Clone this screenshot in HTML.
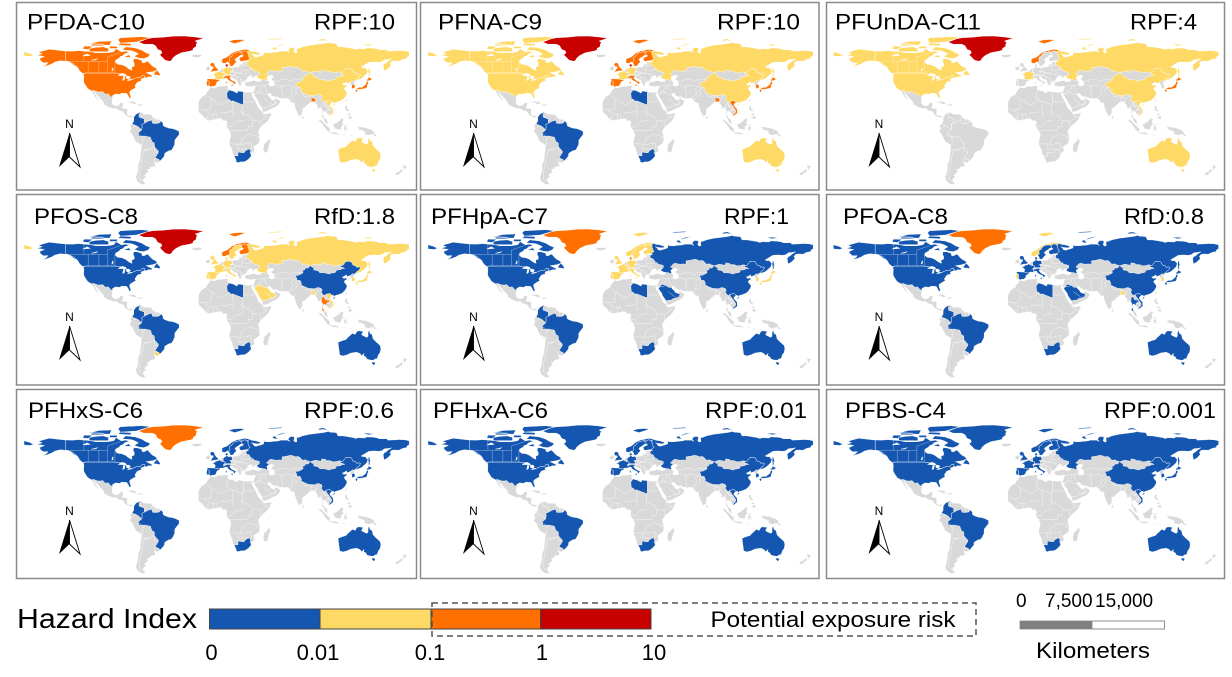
<!DOCTYPE html>
<html><head><meta charset="utf-8"><style>
html,body{margin:0;padding:0;background:#fff}
svg{display:block}
.b{fill:#1557B0}.y{fill:#FFD966}.o{fill:#FF7000}.r{fill:#C80000}.g{fill:#D9D9D9}
text{font-family:"Liberation Sans",Arial,sans-serif;fill:#000}
.t{font-size:22px}
</style></head><body>
<svg width="1232" height="677" viewBox="0 0 1232 677" xmlns="http://www.w3.org/2000/svg">
<defs>
<path id="base" d="M-9,37 -9.5,39 -8.9,42.5 -9.3,43 -8,43.7 -1.8,43.4 -1.2,46 -2.5,47.3 -4.7,48 -1.5,48.7 -1.4,49.7 1.5,50.2 2.5,51.1 4,51.5 4.8,53 7,53.5 8.6,53.9 8.6,55.5 8.1,56.5 8.6,57.1 10.5,57.7 10.3,56.5 10.9,56.3 9.9,55 11,54 13.5,54.3 14.3,53.8 16.5,54.5 18.6,54.7 19.7,54.4 21.1,55.2 21,56.8 21.6,57.4 23.3,57 24.3,57.9 24,58.3 23.4,59.2 28,59.5 30,60 26,60.4 22.9,59.8 21.5,61 21.2,63 23,64 25.3,65 24.5,65.8 22,65.7 21,64.5 19,63.3 17.5,62.3 17.2,61 18.5,60 18.5,59.3 16.5,57.5 16,56.2 14.3,55.4 12.8,55.4 12.5,56.5 11.8,58 11,59 10.5,59.5 9.5,59 8,58.1 6,58.1 5,59 5,60.5 5,62 7,63 10,64 11,65 12.5,66 14,67.5 16,68.5 19,69.8 22,70.2 25.5,71.1 28,71 31,70.3 33,69.3 36,69 40.5,67.7 41,66.5 38.5,66 34.5,66.5 32.5,67 34,66 35,64.3 37,63.8 39,64.5 40.3,64.7 44,66 44,68.5 46,68 50,68 54,68.5 58,68.8 60,69.5 66,69.5 68.5,68.3 66.8,70.5 68.8,72.9 72.5,72.8 72.8,71 72,69 73.6,67.7 75,68 74.7,72 76.5,72 80.5,73.6 87,75 95,76 101,76.8 104.3,77.7 106,77 112,76.5 113.5,73.5 118,73.5 123,72.7 128,71.8 130,71 132.5,71.8 139,71.5 140,72.5 146,72.3 150,71.7 152,70.8 159,70.8 160,69.5 167.5,69.8 170.5,70.1 176,69.8 180,68.9 180,65 178.5,64.5 177.5,62.5 174,61.8 170.3,60 166.3,60.3 163.5,59.8 162,58 163,56.2 161.8,54.9 160,53 158.2,51.9 156.5,51 156,53.5 155.7,56 156.8,57.8 158.5,58.5 160,60 163.5,62.3 160.2,61.7 157,61.5 154.2,59.5 151,59 148.5,59.3 145.5,59.3 142.2,59 138.9,57 135.1,54.7 137,54 139,54.1 140.5,52.2 141.4,51.5 140.5,48.5 138.2,46.3 135.5,43.9 132.9,42.8 130.7,42.3 129.7,41 128,39.8 129.4,37 129.5,35.6 127.4,34.5 126.5,34.4 126.4,36.7 125.9,37.9 124.7,38.1 125.2,39.5 124.3,39.9 121.8,39 121.5,40.8 119,39.3 117.5,38.7 118.8,37.5 120.8,37.8 122.5,37 120,35.6 119.2,34.3 120.6,32.4 121.9,30.9 121.5,28.6 119.6,25.7 117,23.5 114,22.3 111,21.5 110.2,20.1 109.5,21.6 108,21.5 106.7,20.7 105.7,19 106.4,18 108.9,15.3 109.2,11.7 108,10.7 106.3,9.5 104.8,8.6 105,10 103.5,10.6 102.6,12.2 100.9,13.4 100.1,13.4 99.2,10.6 99.8,9.2 100.5,7.4 101.2,6.9 102.1,6.2 103.4,4.9 103.4,3.4 104.2,1.4 103.5,1.3 101.3,2.8 100.3,5.3 98.5,8.4 98.3,10 98.5,13.1 97.6,16.1 97,16.9 95.4,15.7 94.2,16 94.4,18.2 93.5,19.4 92.4,20.7 92,21.7 90.6,22.4 89,21.9 86.9,21.5 87,20.7 85.1,19.5 82.2,16.6 80.3,15.9 80.3,13 79.9,10.4 78,8.9 77.5,8 76.1,10.3 74.9,12.7 74.2,14.6 73.1,17.9 72.8,19.2 72.6,21.4 71.2,20.8 69,22.4 68.2,23.7 66.4,25.4 61.5,25.1 57.4,25.7 56.5,27.1 54.7,26.5 51.5,27.9 50.1,30.1 48.6,29.9 48,29 48.5,27.5 50.2,26.2 50.8,24.7 51.6,24.2 54,24.1 56,26 56.4,24.9 58.7,23.6 59.8,22.3 57.8,19 55.3,17.2 52,16 48.7,14 45,12.7 43.3,12.6 42.6,15.2 41.2,18.7 39,21.5 38.5,23.6 37,25.5 35.2,28.1 34.6,28.1 34.9,29.5 34.3,31.2 35,33 35.8,35.5 36.2,36.7 34.7,36.8 32.5,36.1 30.6,36.7 29.2,36.4 27.6,37 26.3,38.2 26.8,39.5 26.2,40.1 27.3,40.4 29,40.9 31.2,41.1 33.5,42 35.2,42 38.3,40.9 41.5,41.5 41.7,42.6 40,43.4 38.7,44.3 37.4,44.9 38.5,46.6 35,45.6 36.5,45.3 33.6,44.4 32.5,45.3 33.6,46.1 31.7,46.7 30.7,46.5 29.6,45.3 28.7,44.3 28,43 27.6,42.5 28,41.8 26.1,40.8 24,40.8 23.7,39.9 22.6,40.3 23.3,39.2 22.8,37.3 21.7,36.8 21.1,37.8 20.2,39.6 19.4,40.3 19.4,41.9 18.5,42.5 16,43.5 14.9,44.7 13.7,45.2 13.1,45.7 12.3,45.4 12.6,44.1 13.9,42.6 16,41.4 18.5,40.2 17,39 16.6,38 15.9,38.8 15.7,40 14,40.8 12.1,41.7 10.5,42.9 10.2,43.9 8.9,44.4 7.8,43.8 6.5,43.1 4.5,43.5 3.1,43.1 3.2,41.9 0.8,41 0,39.9 -0.3,38.3 -2.1,36.7 -4.4,36.7 -5.4,36 -6.5,36.9 -7.5,37.1 Z
M-17,21 -17.1,14.7 -16.7,12.4 -15,11 -13,9.5 -11.5,6.9 -7.5,4.4 -4,5.2 1,6 2.7,6.3 4.5,6.3 6,4.3 8.5,4.5 9.7,3.6 9.4,1 9,-1 11.9,-5 12.2,-6 13.4,-9 12.3,-13 11.7,-17 14.4,-22.9 15.2,-27 16.5,-28.6 18.3,-32.6 18.2,-34 20,-34.8 22.5,-34 25.6,-34 27.5,-33.2 30,-31.3 32.4,-28.5 32.6,-26 35.5,-24 35.3,-22 34.6,-19.8 36.7,-18.5 40,-16 40.5,-10.5 39.2,-7 39.2,-4.7 41.5,-1.7 43,0.2 46,2.4 48.7,5.3 51.2,10.4 51.1,11.9 48.5,11.2 45,10.6 43.3,11.9 42.5,13.2 39.3,15.9 38.4,18 37.1,21 36.9,22 35.5,24 34,26.6 32.5,29.9 34.9,29.5 33.8,31 32.2,31.3 29,30.9 25,31.6 20.1,32.2 19.1,30.3 15.3,32.3 11.5,33.2 10.2,34.5 11.1,37.1 9.5,37.3 5.4,36.7 1.5,36.6 -2,35.1 -5.9,35.8 -6.9,34 -9.6,30.5 -10,29 -13,27.6 -14.5,26 -16.3,23.5 Z
M49.5,-12 50.5,-15.5 49.5,-17 47.5,-24.9 45,-25.5 43.5,-22.5 44.4,-17 46.3,-15.8 48,-13.5 Z
M-77.4,7.8 -76.7,8.7 -75.5,10.5 -74,11.3 -71.7,12.4 -70,12 -68,10.5 -64,10.6 -61,10.2 -60,8.5 -57,6 -54,5.7 -51.6,4.2 -50,1.8 -50,0 -48.5,-1 -44.5,-2.5 -41,-2.9 -38,-4 -35,-5.5 -35,-8.5 -37,-11 -39,-13.6 -39.2,-17.7 -40.5,-20.5 -42,-23 -45,-23.8 -48.5,-26 -48.7,-28.5 -51,-31.3 -53.4,-33.7 -54.9,-34.9 -58.4,-34.2 -57,-36.5 -57.7,-38.2 -62,-39 -62.2,-40.7 -65,-41 -63.5,-42.7 -65.5,-45 -67.5,-46.5 -65.8,-47.8 -68.5,-50.2 -68.3,-52.3 -66,-55 -70,-55.2 -74.5,-52 -75.5,-48 -74,-44 -73.5,-40 -73.5,-37 -71.5,-32 -71.4,-28 -70.5,-23 -70.2,-18.3 -75.3,-15.3 -76.4,-13.5 -79,-8 -81.2,-6 -80.3,-3.4 -80,-2 -80.9,-1 -80,0.8 -79,1.5 -77.5,4 Z
M-117.1,32.5 -114.7,32.7 -111,31.3 -108.2,31.3 -106.5,31.8 -104.5,29.7 -103,29 -101.5,29.8 -99.5,27.5 -97.2,25.9 -97.7,22 -97.2,20 -95,18.5 -92.5,18.6 -90.5,19.8 -90.3,21 -87,21.5 -87.5,18.5 -88.3,16 -85,16 -83.2,15 -83.5,12 -83.8,11 -82,9 -79.5,9.5 -77.5,8.5 -77.4,7.8 -78.4,8.3 -80.4,7.3 -83,8.3 -85.7,10 -87.5,13 -91.4,14 -94,16 -96.5,15.7 -101,17.3 -105.5,20 -105.5,21.5 -107,23.5 -109.3,25.7 -112.5,29.5 -114.8,31.7 -113.5,29.5 -112,26.5 -110,24 -109.5,23 -110.3,23.5 -112,24.8 -114.2,27.5 -115.7,30.3 Z
M-85,21.9 -81,22.6 -77,22.4 -74.2,20.2 -77.7,19.9 -81,21.4 Z M-74.4,18.5 -68.4,18.6 -69,19.8 -72.8,19.9 Z
M-24,65.5 -22,66.4 -18,66.2 -14.5,66.4 -13.6,65 -14.9,64.4 -18.5,63.4 -22.7,63.9 -21.8,65 Z
M-6,52 -6.3,54 -6,55.2 -8,55.2 -10,54 -10.2,51.8 -8,51.6 Z
M79.9,6.8 80,9.6 81.2,8.5 81.8,7.5 81.2,6.2 80.3,6 Z
M120.1,23 121,25 122,25 121,22 Z
M120.5,18.5 122.2,18.5 122,16 124,13.8 123.5,13 121,14 120.5,14.5 119.8,16.5 Z M122,7 125.5,9.5 126.5,7 125.5,6 124,6.5 Z M122,10.5 124,11.5 125.5,11 124,9.5 122.5,9.5 Z
M95.3,5.6 97.5,5.2 100.6,2 104,-1 106,-3 105.8,-5.8 104.5,-5.9 102.5,-4 100.5,-1.2 98.5,1.7 96.2,3.5 Z
M105.2,-6.8 106,-5.9 108.5,-6.5 111,-6.4 112.8,-6.9 114.5,-7.8 114.5,-8.6 110,-8.2 106.5,-7.4 Z
M109,1.5 110.5,1.6 113,3.1 115.5,5.4 117,7 119,5.3 118,4.3 117.8,2 119,0.9 117.5,0.1 116.5,-1.5 116.2,-3.9 114.5,-3.9 111,-3 110.2,-2.9 110,-1.5 109,0 Z
M119.5,0.5 120.8,1.3 124.9,1.6 121,0.5 120.3,-0.9 121.6,-1 123.3,-0.6 121.5,-1.9 122.8,-4.5 121.5,-4.6 120.9,-3 120.4,-5.6 119.4,-5.4 119.5,-3.5 118.8,-2.8 119.8,-0.2 Z
M131,-1.2 134,-0.9 136,-1.8 138,-1.7 141,-2.6 144.6,-3.9 147.6,-6 147.1,-7.3 150.8,-10.3 148,-10.1 146,-8.1 143,-8.9 143.3,-9.2 141,-9.1 138.8,-8.2 137.6,-8.4 138.6,-6.9 137.9,-5.4 135,-4.4 133,-4.1 132,-2.8 133.5,-2.3 132.2,-2.2 Z
M124,-9.3 127.3,-8.4 125,-10 Z M115,-8.2 119,-8.3 122,-8.3 123,-8.6 119,-9 Z
M172.7,-34.4 174.5,-36.5 175.9,-37.5 178.5,-37.7 177,-39.3 176,-41.3 174.6,-41.3 175.2,-40 173.9,-39.3 174.6,-38 174.2,-36.5 Z M172.8,-40.5 174.3,-41.7 173,-43.8 171.2,-44.5 170.6,-45.9 169,-46.6 166.5,-46 168.3,-44 171,-42.5 Z"/>
<path id="bord" fill="none" d="M-8.7,27.3 -4.8,25 1.2,20.8 4.2,19.2 12,23.5 M25,22 36.9,22 M24,19.5 24,8.7 M3.6,11.7 14.5,13 M-17,16 -12,14.5 -5,10 0,11 M12,-5 16,-5 29,-4.5 30,-1 M11.7,-17 25,-17.6 M20,-22 29,-22 M40.5,-10.5 30,-8 M42.5,12 44,9 48,8 41,4 M34,4.5 41,4 41,-1.7 M-12,14.7 -5.5,15.5 -5,25 M15,23 15.5,8 M22,13 32,8 34,4.5 M9,-1 14,-1 18,3.5 25,5 M29,-1 33,-1 34,4.5 M24,-12 30,-8 M24,-12 22,-17.6 M32,-16 33,-22 M1,6 0,11 M-8,4.5 -8,10 M-3,5 -3,11 M-11.5,6.9 -8.5,8 M20,-18 20,-22 M25,-17.6 32,-16 M37,-12 40,-11
M52,42 56,41.3 58,42 62,43.5 66,43 68,41 71,42.5 75,42.8 80,43 M61,25 61.5,29.5 60.5,34 61,36.5 M66.4,25.4 70,28 71,31 70,34 71.5,36.5 74.5,37 M48.6,29.9 46,33 45.5,35.5 44.5,38 M78,35.5 74,34 73.5,32.5 75,31 74,29 72,27 70,25 68.5,23.8 M36.2,36.7 42,37.2 44.8,37.2 M92.5,21 93.5,24 95,26 97.3,28.2 M44.8,37.2 48,38.5 53.9,37.5 M60,37.5 66,37.3 70,37 M53,38.5 56,38 62,35.5 M80,30.5 82,27 88,26.5 M88,27 88.5,26.5 92,27 M100,21.5 102,18 105,14.5 106.5,13 M102.5,14 106,14.5 M35,30 39,29.5 42,31 M39,32 41,35 M43,37 42,33 M44.5,25 52,19.5 M56,22 52,19
M14.3,53.8 14.6,52.6 15,51 18.8,49.5 22.5,49 24,50.8 23.5,52 23.5,54 M22.5,49 26,48 28,46 29.6,45.3 M13.7,46.5 16.5,46.5 19,45.5 22.5,44.2 23,42.5 26,42 28,41.8 M13.7,46.5 17,48 19,48.5 22.5,48.2 M16.5,46.5 17,48 M19,45.5 19,42 M22.5,44.2 22.5,41 M23.5,54 26,55.5 28,56 M21,56 26,56.5 M24,57.5 27.5,57.5 M24,51 32,52 M26,48 30,48.5 M6,49.5 6,51.8 M9.6,47.5 6,46.3 M10.5,46.8 13.7,46.5 M12.4,50.3 18.8,49.5"/>
<path id="grl" d="M-73,78 -68,76 -60,76 -57,74.5 -55,71 -52,70 -51,68 -53,66 -50,63 -48,61 -44,60 -42,61 -41,63 -38,65.5 -33,68 -25,69.5 -22,70.5 -22,72 -19,74 -19,76 -18,77.5 -20,79 -12,81.5 -20,82.7 -30,83.6 -40,83.5 -50,82.5 -60,82 -65,81 -70,79 Z"/>
<path id="can" d="M-141,69.6 -141,60.3 -137,59 -133,56 -130,54.5 -128,51 -125,48.5 -123,49 -95,49 -89,48 -84,46.5 -82.5,45 -82.5,43 -79,43 -76,44.2 -74.5,45 -71,45 -70,46.5 -67.8,47.1 -67,45 -66,44.5 -64,45.5 -61,45.5 -60,46.5 -64.5,48.8 -66,49.3 -60,50.2 -56,51.5 -55.7,52.5 -57,54 -60,55.5 -62,57.5 -64.5,60.3 -68,58.5 -69.5,58.8 -70,61 -74,62.3 -77.5,62.5 -78,60 -77,58 -77,55.5 -79.5,54.5 -79,51.5 -82,52.9 -85,55.2 -88.5,56.8 -92.5,57.2 -94.5,59 -94.5,61 -91,63 -90,64.5 -88,65 -86,67 -81.5,68.5 -85,69.5 -89,68.8 -94,71.8 -96,69 -102,68 -108,68 -113,68 -118,69 -124,69.5 -129,70 -134,69.5 Z
M-62,66.5 -64,64 -68,62.5 -72,62.8 -77,64.5 -73,67 -77,69 -80,70 -88,70.5 -85,73.5 -76,72.5 -70,70.5 -66,68 Z
M-119,69 -101,69 -101,72 -106,73.5 -113,73 -119,72 Z M-125,71.5 -120,71 -116,74 -124,74.2 Z
M-90,77 -75,78 -62,82 -70,83 -90,82 -92,80 Z M-92,75 -80,74.5 -80,76.5 -90,77 Z
M-120,76 -100,75 -98,79 -110,78.5 Z M-117,74.5 -105,74.5 -106,76 -117,76.5 Z M-100,72 -93,72 -93,74 -100,74 Z
M-87,64 -80,63.5 -82,66 Z M-59,47.6 -53,46.6 -52.7,48 -55.5,51.5 -57,50.5 Z"/>
<path id="canb" fill="none" d="M-120,49 -120,60 M-110,49 -110,60 M-102,49 -102,60 M-95,49 -95,60 M-141,60 -102,60 -102,64 -90,68 M-124,60 -124,69.5 M-79.5,52 -79.5,62"/>
<path id="usa" d="M-123,49 -124.5,48 -124,46 -124.3,42 -124,40 -122.5,37.5 -120.5,34.5 -117.1,32.5 -114.7,32.7 -111,31.3 -108.2,31.3 -106.5,31.8 -104.5,29.7 -103,29 -101.5,29.8 -99.5,27.5 -97.2,25.9 -97.4,27.8 -94.5,29.5 -90.5,29.1 -89,30.2 -85.5,30 -84,30 -82.7,28 -81.8,26 -80.4,25.2 -80.1,26.8 -81.3,30.3 -81,32 -77.9,34 -75.5,35.3 -76.3,37 -75.2,38.8 -74,40.5 -71.5,41.3 -70,41.7 -70.8,42.9 -70.2,43.7 -67,44.8 -67.8,47.1 -70,46.5 -71,45 -74.5,45 -76,44.2 -79,43 -82.5,43 -82.5,45 -84,46.5 -89,48 -95,49 Z
M-141,69.6 -141,60.3 -137,59 -133,56 -130.5,54.8 -134,58 -140,59.8 -146,60.5 -151,59.3 -154,57.5 -158,56 -163,54.8 -159,57 -157.5,58.8 -162,58.6 -164.5,60.5 -165.5,62.5 -161,64.5 -168,65.6 -163,67 -166.5,68.3 -163,69.5 -156.5,71.3 -152,70.8 -145,70 Z"/>
<path id="col" d="M-77.4,7.8 -76.7,8.7 -75.5,10.5 -74,11.3 -71.7,12.4 -71.2,11.8 -72.4,11 -72.5,8 -67.5,6.2 -67.7,4 -67.3,2.2 -70,1 -69.5,-1 -70,-4.2 -73,-1.2 -75.2,-0.1 -77.5,0.8 -79,1.5 -77.5,4 Z"/>
<path id="bra" d="M-70,-4.2 -69.5,-1 -70,1 -67.3,2.2 -64,4 -60.7,5 -59.8,2 -56.5,1.9 -54,2.2 -51.6,4.2 -50,1.8 -50,0 -48.5,-1 -44.5,-2.5 -41,-2.9 -38,-4 -35,-5.5 -35,-8.5 -37,-11 -39,-13.6 -39.2,-17.7 -40.5,-20.5 -42,-23 -45,-23.8 -48.5,-26 -48.7,-28.5 -51,-31.3 -53.4,-33.7 -53.7,-32 -57.6,-30.2 -55.8,-27.5 -54.6,-25.6 -54.3,-24 -55.8,-22.4 -58,-20 -58.2,-16.3 -60.5,-15 -61.9,-10.9 -65.3,-10.3 -66.6,-9.9 -72.4,-10 -73.4,-7 Z"/>
<path id="sab" fill="none" d="M-72.5,8 -70,7 -67.5,6.2 M-60.7,5 -60,8.5 M-56.5,1.9 -57,6 M-54,2.2 -54,5.7 M-75.2,-0.1 -80.3,-3.4 M-73.4,-7 -70,-10 -69,-13 -69,-18 -70.2,-18.3 M-66.6,-9.9 -69,-13 M-58,-20 -62,-22 -67,-22.5 -68.5,-22 M-58,-20 -58,-24 -54.6,-25.6 M-62,-22 -68.5,-24 -69,-28 -70,-33 -71.5,-40 -72,-45 -72,-50 -69,-52"/>
<path id="ury" d="M-58.4,-34.2 -54.9,-34.9 -53.4,-33.7 -53.7,-32 -57.6,-30.2 -58.2,-33 Z"/>
<path id="lby" d="M11.5,33.2 10,30.8 9.5,30.2 10,25.3 11.9,24.3 14,22.5 15.1,23 24,19.5 25,20 25,31.6 20.1,32.2 19.1,30.3 15.3,32.3 Z"/>
<path id="zaf" d="M16.5,-28.6 18.3,-32.6 18.2,-34 20,-34.8 22.5,-34 25.6,-34 27.5,-33.2 30,-31.3 32.4,-28.5 32,-26.8 31.3,-25.6 31.9,-24.3 31.2,-22.3 29.4,-22.1 27,-23.6 25.7,-25.5 23,-25.3 20,-24.8 20,-28.4 17,-28.3 Z"/>
<path id="sau" d="M36.5,29.2 37.5,31 39,32 42,31.1 44.7,29.2 47.5,29 48.5,27.5 50.2,26.2 50.8,24.7 51.6,24.2 55.5,22.7 55,20 52,19 49,18.6 47,17 46.3,17.2 43.2,16.7 42.8,16.4 41.5,18 39,21.5 38.5,23.6 37,25.5 35.2,28.1 Z"/>
<path id="nor" d="M5,59 5,60.5 5,62 7,63 10,64 11,65 12.5,66 14,67.5 16,68.5 19,69.8 22,70.2 25.5,71.1 28,71 31,70.3 30,69.5 29,69 26,69.8 24,68.6 21,69 20,68.5 18,68.5 16.5,67.5 15,66.2 14,64.5 12.5,64 12,62 12.5,61 12.3,60.1 11.5,59.6 11,59 10.5,59.5 9.5,59 8,58.1 6,58.1 Z M11,78.5 16,80 22,80.4 27,80 22,78 17,76.5 14,77.5 Z"/>
<path id="swe" d="M11,59 11.5,59.6 12.3,60.1 12.5,61 12,62 12.5,64 14,64.5 15,66.2 16.5,67.5 18,68.5 20,68.5 21,69 23.5,67.9 23.9,66 24.5,65.8 22,65.7 21,64.5 19,63.3 17.5,62.3 17.2,61 18.5,60 18.5,59.3 16.5,57.5 16,56.2 14.3,55.4 12.8,55.4 12.5,56.5 11.8,58 Z"/>
<path id="fin" d="M24.5,65.8 25.3,65 23,64 21.2,63 21.5,61 22.9,59.8 26,60.4 28.5,60.6 31.5,62.9 30,64 30,65.5 29,66.9 30,67.7 28.5,68.5 29,69 26,69.8 24,68.6 21,69 23.5,67.9 23.9,66 Z"/>
<path id="gbr" d="M-5.7,50 -3,50.6 1.3,51.2 1.7,52.7 0.2,53.3 -0.3,54.1 -1.5,55.5 -2.1,57.7 -3.3,58.6 -5,58.6 -6.2,57 -5.6,56 -4.8,54.8 -3.1,54.9 -3.2,53.4 -4.5,52.8 -4.3,51.6 -5.2,51.6 Z"/>
<path id="fra" d="M-1.8,43.4 -1.2,46 -2.5,47.3 -4.7,48 -1.5,48.7 -1.4,49.7 1.5,50.2 2.5,51.1 4.2,49.9 5.9,49.5 8.2,49 7.6,47.6 6,46.3 7,45.8 6.8,44 7.5,43.8 6.5,43.1 4.5,43.5 3.1,43.1 3.2,42.4 0.7,42.8 Z"/>
<path id="esp" d="M-9.3,43 -8,43.7 -1.8,43.4 0.7,42.8 3.2,42.4 3.2,41.9 0.8,41 0,39.9 -0.3,38.3 -2.1,36.7 -4.4,36.7 -5.4,36 -6.5,36.9 -7.4,37.2 -7,38 -7.1,39.7 -6.9,41 -8.2,42.1 -8.9,42.5 Z"/>
<path id="prt" d="M-8.9,42.5 -8.2,42.1 -6.9,41 -7.1,39.7 -7,38 -7.4,37.2 -7.5,37.1 -9,37 -9.5,39 Z"/>
<path id="ita" d="M7.5,43.8 6.8,44 7,45.8 8.5,46.2 10.5,46.8 12.2,47 13.7,46.5 13.7,45.7 12.3,45.4 12.6,44.1 13.9,42.6 16,41.4 18.5,40.2 17,39 16.6,38 15.9,38.8 15.7,40 14,40.8 12.1,41.7 10.5,42.9 10.2,43.9 8.9,44.4 Z M12.4,38 15.6,38.3 15.1,36.7 Z M8.4,39 9.6,39.2 9.8,41 8.4,41 Z"/>
<path id="deu" d="M6,51.8 6.2,50.5 6.4,49.5 8.2,49 7.6,47.6 9.6,47.5 13,47.5 13.8,48.7 12.4,50.3 15,51 14.6,52.6 14.3,53.8 13.5,54.3 11,54 9.9,54.8 8.6,54.9 8.6,53.9 7,53.5 Z"/>
<path id="dnk" d="M8.1,56.5 8.6,57.1 10.5,57.7 10.3,56.5 10.9,56.3 9.9,55 8.6,54.9 8.6,55.5 Z M11,55.2 12.5,55.6 12.3,56.1 11,55.8 Z"/>
<path id="rus" d="M28,59.5 30,60 28.5,60.6 31.5,62.9 30,64 30,65.5 29,66.9 30,67.7 28.5,68.5 30,69.5 31,70.3 33,69.3 36,69 40.5,67.7 41,66.5 38.5,66 34.5,66.5 32.5,67 34,66 35,64.3 37,63.8 39,64.5 40.3,64.7 44,66 44,68.5 46,68 50,68 54,68.5 58,68.8 60,69.5 66,69.5 68.5,68.3 66.8,70.5 68.8,72.9 72.5,72.8 72.8,71 72,69 73.6,67.7 75,68 74.7,72 76.5,72 80.5,73.6 87,75 95,76 101,76.8 104.3,77.7 106,77 112,76.5 113.5,73.5 118,73.5 123,72.7 128,71.8 130,71 132.5,71.8 139,71.5 140,72.5 146,72.3 150,71.7 152,70.8 159,70.8 160,69.5 167.5,69.8 170.5,70.1 176,69.8 180,68.9 180,65 178.5,64.5 177.5,62.5 174,61.8 170.3,60 166.3,60.3 163.5,59.8 162,58 163,56.2 161.8,54.9 160,53 158.2,51.9 156.5,51 156,53.5 155.7,56 156.8,57.8 158.5,58.5 160,60 163.5,62.3 160.2,61.7 157,61.5 154.2,59.5 151,59 148.5,59.3 145.5,59.3 142.2,59 138.9,57 135.1,54.7 137,54 139,54.1 140.5,52.2 141.4,51.5 140.5,48.5 138.2,46.3 135.5,43.9 132.9,42.8 130.7,42.3 130.6,42.9 131.3,44.1 133.1,45.1 134.5,47.6 133.4,48.2 130.9,47.8 130.5,48.9 127.4,50 126,52.8 123.5,53.5 120.7,53.2 119.8,52 117.8,49.5 116.7,49.8 114.4,50.2 111.8,49.4 108.5,49.3 106.2,50.3 102.3,50.5 102,51.4 98.2,52 97.8,49.7 92.2,50.8 87.8,49.3 87.3,49.2 86.6,49.8 85,50 83.4,51.1 81,50.8 80,50.9 77.8,53.4 76.5,54.2 73.5,54 71,55 69,55.4 65.2,54.4 61.6,54 61,53.5 61.6,51.3 59.9,50.8 57.7,51 55.7,50.6 53,51.2 50.8,51.7 48.7,50.6 48.6,49.9 46.5,48.4 47.2,47.7 48,47.7 49,46.4 47.5,45.6 47,44.5 47.6,43.7 48,42.5 46.5,41.9 44.9,42.8 43.5,42.9 40,43.4 38.7,44.3 37.4,44.9 38.5,46.6 39.7,47.1 40,47.9 39.8,48.8 40,49.6 38.6,49.9 37.4,50.4 35.4,50.6 35,51.2 34.1,51.6 34.4,52.2 32,52.1 31.8,52.8 31.3,53.1 32.7,53.4 31,54 30.9,55.1 30.2,55.9 28.2,56.2 27.8,57.3 27.3,57.5 27.7,58 Z
M-180,68.9 -175,67.5 -172,66 -170,66.2 -174,64.5 -180,65 Z
M52,71.5 55,70.7 57.5,70.7 55,72.5 57,74.5 61,76 68,76.9 63,75.6 56,73.5 53,73 Z
M95,79 100,79.5 105,78.5 100,81 96,80.5 Z M136,75.5 142,74.5 148,75.3 141,76 Z M47,80 60,80.5 62,81.5 50,81 Z M178.5,71 180,71.6 180,70.9 Z
M142,46 143.5,46.8 143,49.5 144,49 143,53 142.5,54.3 142,53.7 141.7,51 142,48 Z"/>
<path id="chn" d="M130.6,42.9 131.3,44.1 133.1,45.1 134.5,47.6 133.4,48.2 130.9,47.8 130.5,48.9 127.4,50 126,52.8 123.5,53.5 120.7,53.2 119.8,52 117.8,49.5 116.7,49.8 115.5,48.1 118,47.7 119.7,46.7 117.4,46.6 116,45.7 111.9,45.1 111.3,44.4 111.8,43.7 110.4,42.9 107.7,42.5 105,41.6 100.8,42.7 96.4,42.7 95.3,44.2 93.5,45 90.9,45.3 90.6,46.3 91,47 90.3,47.7 88.9,48.1 87.8,49.3 87.3,49.2 85.5,47.1 83.2,47.3 82.2,45.5 80.1,44.9 80.9,43.2 80.3,42.3 77.7,41 76.4,40.4 74.8,40.4 73.9,39.7 74.9,37.4 75.2,35.6 78,35.5 78.9,34.3 78.8,33.5 79.5,32.4 78.7,31.5 81.1,30.2 85.8,28.2 88.8,28 91.7,27.8 93.4,28.6 95.4,29 96.6,28.4 98.2,27.7 98.7,25.9 97.7,24.8 98.9,23.1 99.5,22.1 101.2,21.4 101.8,22.4 103.2,22.8 105.3,23.3 106.7,22.8 108,21.5 109.5,21.6 110.2,20.1 111,21.5 114,22.3 117,23.5 119.6,25.7 121.5,28.6 121.9,30.9 120.6,32.4 119.2,34.3 120,35.6 122.5,37 120.8,37.8 118.8,37.5 117.5,38.7 119,39.3 121.5,40.8 121.8,39 124.3,39.9 125.5,40.6 126.9,41.8 128.2,41.4 129.7,42.4 Z M108.6,19.2 110.5,20.1 111,19.6 109.5,18.2 Z"/>
<path id="jpn" d="M130.9,34 132,33.9 135,33.8 136.9,34.3 138.8,34.6 140.2,35.1 140.9,36.9 141,38.3 142,39.6 141.4,41.4 140,40.7 139.9,39.4 138.8,37.8 137.3,36.8 136.1,35.7 133,35.6 131,34.7 Z M129.6,33.3 131,34 131.9,33 131.1,31.2 130.2,31.3 Z M132.5,33.2 134.8,34.1 134.3,33.3 133,32.8 Z M140,41.5 141.1,41.8 143.2,42 145.5,43.3 144.3,44.1 141.9,45.5 141.5,43.3 140.3,43.3 Z"/>
<path id="kor" d="M126.1,37.7 127.2,38.3 128.4,38.6 129.4,37 129.5,35.6 127.4,34.5 126.5,34.4 126.4,36.7 Z"/>
<path id="vnm" d="M102.1,22.4 103.2,22.8 105.3,23.3 106.7,22.8 108,21.5 106.7,20.7 105.7,19 106.4,18 108.9,15.3 109.2,11.7 108,10.7 106.3,9.5 104.8,8.6 105,10 106.2,10.9 107.5,12.3 107.5,14.4 106.5,15.5 105,17.9 104,18.9 103.5,20 102.5,20.9 Z"/>
<path id="tha" d="M98.4,7.9 99,10.5 99.2,12.2 99.1,13.8 98.3,15.3 97.7,16.3 98.5,17.3 97.8,18.5 98.9,19.8 100.1,20.4 100.8,19.5 101.3,17.6 102.7,17.9 104.7,17.4 105.6,15.6 103,14.2 102.6,12.2 100.9,13.4 100.1,13.4 99.2,10.6 99.8,9.2 100.5,7.4 101.2,6.9 100.1,6.5 Z"/>
<path id="bgd" d="M88.1,22.1 89,21.9 90.6,22.4 92,21.7 92.4,22.8 92.6,24 91.8,25.1 89.8,25.9 88.6,26.4 88.2,24.6 89,23.6 Z"/>
<path id="aus" d="M113.5,-22 114,-26.5 115,-34 118,-35 122,-34 124,-33 126,-32.2 131,-31.5 134,-32.8 135.7,-34.8 137.8,-32.6 137.5,-35 139.5,-35.9 140.5,-38 143.5,-38.8 146.3,-39.1 148,-37.8 150,-37.5 151.3,-33.8 153,-31.5 153.5,-28 153,-25.5 151,-23.5 149.5,-22.3 146.3,-19 145.3,-15 143.5,-14 142.5,-10.7 141.6,-12.9 141.5,-16.5 140.6,-17.6 139,-17 136,-15.5 135.5,-14.8 136.9,-12.3 136.5,-11.9 132.7,-11.5 131,-12.2 129.5,-14.9 127,-13.8 125.2,-15.4 123.5,-17 122.2,-18.1 121,-19.6 117.4,-20.7 114.6,-21.8 Z M144.7,-40.7 148.3,-40.9 148,-43 146.9,-43.6 145.3,-42.3 Z"/>
<path id="water" d="M47,45 49,46.5 51.5,47 53,46.5 53,45 51.5,44.5 51,43.2 52.7,41.7 53.9,40.7 53.9,38.9 53.5,37.2 51,36.8 49,37.6 49.5,40.2 48,42 47.5,43 Z
M-92,46.7 -84.5,46.5 -85,47.8 -88,48.8 -90,48 Z M-87.8,42 -87,46 -85.5,45.8 -86.3,42.5 Z M-84,43.7 -81.7,43.3 -80.5,45 -81.8,46.1 -84.5,46 Z M-83.4,41.7 -79,42.8 -79.5,43 -83,42.2 Z
M-125,65 -118,65.5 -121,67 Z M-117,61 -111,62.5 -113,61.3 Z M-98,51 -97,54 -96.5,53.5 -97,51 Z"/>
</defs>

<rect width="1232" height="677" fill="#fff"/>

<g fill="none" stroke="#8a8a8a" stroke-width="1.5">
<rect x="16.5" y="2.5" width="400" height="187.5"/>
<rect x="420.5" y="2.5" width="398.5" height="187.5"/>
<rect x="826.5" y="2.5" width="398" height="187.5"/>
<rect x="16.5" y="194.5" width="400" height="190.5"/>
<rect x="420.5" y="194.5" width="398.5" height="190.5"/>
<rect x="826.5" y="194.5" width="398" height="190.5"/>
<rect x="16.5" y="389.5" width="400" height="189"/>
<rect x="420.5" y="389.5" width="398.5" height="189"/>
<rect x="826.5" y="389.5" width="398" height="189"/>
</g>

<!-- P1 PFDA -->
<g transform="translate(216.6,125.5) scale(1.07,-1.07)" stroke="#fff" stroke-width="0.4" stroke-linejoin="round">
<use href="#base" class="g"/><use href="#grl" class="r"/><use href="#can" class="o"/><use href="#usa" class="o"/><use href="#col" class="b"/><use href="#bra" class="b"/><use href="#ury" class="g"/><use href="#lby" class="b"/><use href="#zaf" class="b"/><use href="#sau" class="g"/><use href="#nor" class="o"/><use href="#swe" class="o"/><use href="#fin" class="o"/><use href="#gbr" class="o"/><use href="#fra" class="y"/><use href="#esp" class="o"/><use href="#prt" class="o"/><use href="#ita" class="o"/><use href="#deu" class="y"/><use href="#dnk" class="r"/><use href="#rus" class="y"/><use href="#chn" class="y"/><use href="#jpn" class="o"/><use href="#kor" class="o"/><use href="#vnm" class="y"/><use href="#tha" class="g"/><use href="#bgd" class="o"/><use href="#aus" class="y"/><use href="#water" fill="#fff"/><use href="#bord" stroke-width="0.35"/><use href="#canb" stroke-width="0.25"/><use href="#sab" stroke-width="0.35"/>
</g>
<!-- P2 PFNA -->
<g transform="translate(620.6,125.5) scale(1.07,-1.07)" stroke="#fff" stroke-width="0.4" stroke-linejoin="round">
<use href="#base" class="g"/><use href="#grl" class="r"/><use href="#can" class="y"/><use href="#usa" class="y"/><use href="#col" class="b"/><use href="#bra" class="b"/><use href="#ury" class="g"/><use href="#lby" class="b"/><use href="#zaf" class="b"/><use href="#sau" class="g"/><use href="#nor" class="o"/><use href="#swe" class="o"/><use href="#fin" class="o"/><use href="#gbr" class="o"/><use href="#fra" class="y"/><use href="#esp" class="o"/><use href="#prt" class="o"/><use href="#ita" class="o"/><use href="#deu" class="y"/><use href="#dnk" class="r"/><use href="#rus" class="y"/><use href="#chn" class="y"/><use href="#jpn" class="o"/><use href="#kor" class="o"/><use href="#vnm" class="o"/><use href="#tha" class="g"/><use href="#bgd" class="o"/><use href="#aus" class="y"/><use href="#water" fill="#fff"/><use href="#bord" stroke-width="0.35"/><use href="#canb" stroke-width="0.25"/><use href="#sab" stroke-width="0.35"/>
</g>
<!-- P3 PFUnDA -->
<g transform="translate(1026,125.5) scale(1.07,-1.07)" stroke="#fff" stroke-width="0.4" stroke-linejoin="round">
<use href="#base" class="g"/><use href="#grl" class="r"/><use href="#can" class="y"/><use href="#usa" class="y"/><use href="#col" class="g"/><use href="#bra" class="g"/><use href="#ury" class="g"/><use href="#lby" class="g"/><use href="#zaf" class="g"/><use href="#sau" class="g"/><use href="#nor" class="o"/><use href="#swe" class="g"/><use href="#fin" class="g"/><use href="#gbr" class="g"/><use href="#fra" class="y"/><use href="#esp" class="g"/><use href="#prt" class="g"/><use href="#ita" class="g"/><use href="#deu" class="g"/><use href="#dnk" class="g"/><use href="#rus" class="y"/><use href="#chn" class="y"/><use href="#jpn" class="o"/><use href="#kor" class="g"/><use href="#vnm" class="y"/><use href="#tha" class="g"/><use href="#bgd" class="g"/><use href="#aus" class="y"/><use href="#water" fill="#fff"/><use href="#bord" stroke-width="0.35"/><use href="#canb" stroke-width="0.25"/><use href="#sab" stroke-width="0.35"/>
</g>
<!-- P4 PFOS -->
<g transform="translate(216.6,318.5) scale(1.07,-1.07)" stroke="#fff" stroke-width="0.4" stroke-linejoin="round">
<use href="#base" class="g"/><use href="#grl" class="r"/><use href="#can" class="b"/><use href="#usa" class="b"/><use href="#col" class="b"/><use href="#bra" class="b"/><use href="#ury" class="y"/><use href="#lby" class="b"/><use href="#zaf" class="b"/><use href="#sau" class="y"/><use href="#nor" class="o"/><use href="#swe" class="y"/><use href="#fin" class="o"/><use href="#gbr" class="y"/><use href="#fra" class="y"/><use href="#esp" class="y"/><use href="#prt" class="y"/><use href="#ita" class="y"/><use href="#deu" class="y"/><use href="#dnk" class="y"/><use href="#rus" class="y"/><use href="#chn" class="b"/><use href="#jpn" class="y"/><use href="#kor" class="y"/><use href="#vnm" class="y"/><use href="#tha" class="o"/><use href="#bgd" class="y"/><use href="#aus" class="b"/><use href="#water" fill="#fff"/><use href="#bord" stroke-width="0.35"/><use href="#canb" stroke-width="0.25"/><use href="#sab" stroke-width="0.35"/>
</g>
<!-- P5 PFHpA -->
<g transform="translate(620.6,318.5) scale(1.07,-1.07)" stroke="#fff" stroke-width="0.4" stroke-linejoin="round">
<use href="#base" class="g"/><use href="#grl" class="o"/><use href="#can" class="b"/><use href="#usa" class="b"/><use href="#col" class="b"/><use href="#bra" class="b"/><use href="#ury" class="g"/><use href="#lby" class="b"/><use href="#zaf" class="b"/><use href="#sau" class="b"/><use href="#nor" class="y"/><use href="#swe" class="y"/><use href="#fin" class="y"/><use href="#gbr" class="y"/><use href="#fra" class="y"/><use href="#esp" class="y"/><use href="#prt" class="y"/><use href="#ita" class="y"/><use href="#deu" class="y"/><use href="#dnk" class="o"/><use href="#rus" class="b"/><use href="#chn" class="b"/><use href="#jpn" class="y"/><use href="#kor" class="y"/><use href="#vnm" class="b"/><use href="#tha" class="g"/><use href="#bgd" class="g"/><use href="#aus" class="b"/><use href="#water" fill="#fff"/><use href="#bord" stroke-width="0.35"/><use href="#canb" stroke-width="0.25"/><use href="#sab" stroke-width="0.35"/>
</g>
<!-- P6 PFOA -->
<g transform="translate(1026,318.5) scale(1.07,-1.07)" stroke="#fff" stroke-width="0.4" stroke-linejoin="round">
<use href="#base" class="g"/><use href="#grl" class="o"/><use href="#can" class="b"/><use href="#usa" class="b"/><use href="#col" class="b"/><use href="#bra" class="b"/><use href="#ury" class="g"/><use href="#lby" class="b"/><use href="#zaf" class="b"/><use href="#sau" class="b"/><use href="#nor" class="y"/><use href="#swe" class="b"/><use href="#fin" class="b"/><use href="#gbr" class="b"/><use href="#fra" class="b"/><use href="#esp" class="b"/><use href="#prt" class="y"/><use href="#ita" class="b"/><use href="#deu" class="b"/><use href="#dnk" class="b"/><use href="#rus" class="b"/><use href="#chn" class="b"/><use href="#jpn" class="b"/><use href="#kor" class="y"/><use href="#vnm" class="b"/><use href="#tha" class="b"/><use href="#bgd" class="y"/><use href="#aus" class="b"/><use href="#water" fill="#fff"/><use href="#bord" stroke-width="0.35"/><use href="#canb" stroke-width="0.25"/><use href="#sab" stroke-width="0.35"/>
</g>
<!-- P7 PFHxS -->
<g transform="translate(216.6,514.5) scale(1.07,-1.07)" stroke="#fff" stroke-width="0.4" stroke-linejoin="round">
<use href="#base" class="g"/><use href="#grl" class="o"/><use href="#can" class="b"/><use href="#usa" class="b"/><use href="#col" class="b"/><use href="#bra" class="b"/><use href="#ury" class="g"/><use href="#lby" class="g"/><use href="#zaf" class="b"/><use href="#sau" class="g"/><use href="#nor" class="b"/><use href="#swe" class="b"/><use href="#fin" class="b"/><use href="#gbr" class="b"/><use href="#fra" class="b"/><use href="#esp" class="b"/><use href="#prt" class="b"/><use href="#ita" class="b"/><use href="#deu" class="b"/><use href="#dnk" class="b"/><use href="#rus" class="b"/><use href="#chn" class="b"/><use href="#jpn" class="b"/><use href="#kor" class="b"/><use href="#vnm" class="b"/><use href="#tha" class="g"/><use href="#bgd" class="g"/><use href="#aus" class="b"/><use href="#water" fill="#fff"/><use href="#bord" stroke-width="0.35"/><use href="#canb" stroke-width="0.25"/><use href="#sab" stroke-width="0.35"/>
</g>
<!-- P8 PFHxA -->
<g transform="translate(620.6,514.5) scale(1.07,-1.07)" stroke="#fff" stroke-width="0.4" stroke-linejoin="round">
<use href="#base" class="g"/><use href="#grl" class="b"/><use href="#can" class="b"/><use href="#usa" class="b"/><use href="#col" class="g"/><use href="#bra" class="b"/><use href="#ury" class="g"/><use href="#lby" class="b"/><use href="#zaf" class="b"/><use href="#sau" class="g"/><use href="#nor" class="b"/><use href="#swe" class="b"/><use href="#fin" class="b"/><use href="#gbr" class="b"/><use href="#fra" class="b"/><use href="#esp" class="b"/><use href="#prt" class="b"/><use href="#ita" class="b"/><use href="#deu" class="b"/><use href="#dnk" class="b"/><use href="#rus" class="b"/><use href="#chn" class="b"/><use href="#jpn" class="b"/><use href="#kor" class="b"/><use href="#vnm" class="b"/><use href="#tha" class="g"/><use href="#bgd" class="g"/><use href="#aus" class="b"/><use href="#water" fill="#fff"/><use href="#bord" stroke-width="0.35"/><use href="#canb" stroke-width="0.25"/><use href="#sab" stroke-width="0.35"/>
</g>
<!-- P9 PFBS -->
<g transform="translate(1026,514.5) scale(1.07,-1.07)" stroke="#fff" stroke-width="0.4" stroke-linejoin="round">
<use href="#base" class="g"/><use href="#grl" class="b"/><use href="#can" class="b"/><use href="#usa" class="b"/><use href="#col" class="b"/><use href="#bra" class="b"/><use href="#ury" class="g"/><use href="#lby" class="g"/><use href="#zaf" class="b"/><use href="#sau" class="g"/><use href="#nor" class="b"/><use href="#swe" class="b"/><use href="#fin" class="b"/><use href="#gbr" class="b"/><use href="#fra" class="b"/><use href="#esp" class="b"/><use href="#prt" class="b"/><use href="#ita" class="b"/><use href="#deu" class="b"/><use href="#dnk" class="b"/><use href="#rus" class="b"/><use href="#chn" class="b"/><use href="#jpn" class="b"/><use href="#kor" class="b"/><use href="#vnm" class="b"/><use href="#tha" class="g"/><use href="#bgd" class="g"/><use href="#aus" class="b"/><use href="#water" fill="#fff"/><use href="#bord" stroke-width="0.35"/><use href="#canb" stroke-width="0.25"/><use href="#sab" stroke-width="0.35"/>
</g>

<!-- north arrows -->
<g transform="translate(69.5,2)"><text x="0" y="126" font-size="12" text-anchor="middle">N</text><path d="M0,131 L-10.5,165 L0,155 Z" fill="#000"/><path d="M0,131 L10.5,165 L0,155 Z" fill="#fff" stroke="#000" stroke-width="0.9"/></g>
<g transform="translate(473.5,2)"><text x="0" y="126" font-size="12" text-anchor="middle">N</text><path d="M0,131 L-10.5,165 L0,155 Z" fill="#000"/><path d="M0,131 L10.5,165 L0,155 Z" fill="#fff" stroke="#000" stroke-width="0.9"/></g>
<g transform="translate(879,2)"><text x="0" y="126" font-size="12" text-anchor="middle">N</text><path d="M0,131 L-10.5,165 L0,155 Z" fill="#000"/><path d="M0,131 L10.5,165 L0,155 Z" fill="#fff" stroke="#000" stroke-width="0.9"/></g>
<g transform="translate(69.5,195)"><text x="0" y="126" font-size="12" text-anchor="middle">N</text><path d="M0,131 L-10.5,165 L0,155 Z" fill="#000"/><path d="M0,131 L10.5,165 L0,155 Z" fill="#fff" stroke="#000" stroke-width="0.9"/></g>
<g transform="translate(473.5,195)"><text x="0" y="126" font-size="12" text-anchor="middle">N</text><path d="M0,131 L-10.5,165 L0,155 Z" fill="#000"/><path d="M0,131 L10.5,165 L0,155 Z" fill="#fff" stroke="#000" stroke-width="0.9"/></g>
<g transform="translate(879,195)"><text x="0" y="126" font-size="12" text-anchor="middle">N</text><path d="M0,131 L-10.5,165 L0,155 Z" fill="#000"/><path d="M0,131 L10.5,165 L0,155 Z" fill="#fff" stroke="#000" stroke-width="0.9"/></g>
<g transform="translate(69.5,389)"><text x="0" y="126" font-size="12" text-anchor="middle">N</text><path d="M0,131 L-10.5,165 L0,155 Z" fill="#000"/><path d="M0,131 L10.5,165 L0,155 Z" fill="#fff" stroke="#000" stroke-width="0.9"/></g>
<g transform="translate(473.5,389)"><text x="0" y="126" font-size="12" text-anchor="middle">N</text><path d="M0,131 L-10.5,165 L0,155 Z" fill="#000"/><path d="M0,131 L10.5,165 L0,155 Z" fill="#fff" stroke="#000" stroke-width="0.9"/></g>
<g transform="translate(879,389)"><text x="0" y="126" font-size="12" text-anchor="middle">N</text><path d="M0,131 L-10.5,165 L0,155 Z" fill="#000"/><path d="M0,131 L10.5,165 L0,155 Z" fill="#fff" stroke="#000" stroke-width="0.9"/></g>

<!-- titles -->
<text class="t" x="27" y="29.5" textLength="118" lengthAdjust="spacingAndGlyphs">PFDA-C10</text>
<text class="t" x="314" y="29.5" textLength="81" lengthAdjust="spacingAndGlyphs">RPF:10</text>
<text class="t" x="438" y="29.5" textLength="104" lengthAdjust="spacingAndGlyphs">PFNA-C9</text>
<text class="t" x="717" y="29.5" textLength="83" lengthAdjust="spacingAndGlyphs">RPF:10</text>
<text class="t" x="835" y="29.5" textLength="146" lengthAdjust="spacingAndGlyphs">PFUnDA-C11</text>
<text class="t" x="1130" y="29.5" textLength="67" lengthAdjust="spacingAndGlyphs">RPF:4</text>

<text class="t" x="34" y="224" textLength="104" lengthAdjust="spacingAndGlyphs">PFOS-C8</text>
<text class="t" x="314" y="224" textLength="81" lengthAdjust="spacingAndGlyphs">RfD:1.8</text>
<text class="t" x="431" y="224" textLength="117" lengthAdjust="spacingAndGlyphs">PFHpA-C7</text>
<text class="t" x="724" y="224" textLength="65" lengthAdjust="spacingAndGlyphs">RPF:1</text>
<text class="t" x="843" y="224" textLength="105" lengthAdjust="spacingAndGlyphs">PFOA-C8</text>
<text class="t" x="1124" y="224" textLength="80" lengthAdjust="spacingAndGlyphs">RfD:0.8</text>

<text class="t" x="28" y="418" textLength="115" lengthAdjust="spacingAndGlyphs">PFHxS-C6</text>
<text class="t" x="304" y="418" textLength="90" lengthAdjust="spacingAndGlyphs">RPF:0.6</text>
<text class="t" x="433" y="418" textLength="115" lengthAdjust="spacingAndGlyphs">PFHxA-C6</text>
<text class="t" x="705" y="418" textLength="102" lengthAdjust="spacingAndGlyphs">RPF:0.01</text>
<text class="t" x="845" y="418" textLength="101" lengthAdjust="spacingAndGlyphs">PFBS-C4</text>
<text class="t" x="1104" y="418" textLength="112" lengthAdjust="spacingAndGlyphs">RPF:0.001</text>

<!-- legend -->
<text x="17" y="628" font-size="28" textLength="180" lengthAdjust="spacingAndGlyphs">Hazard Index</text>
<rect x="209.5" y="609" width="110.5" height="20" fill="#1557B0"/>
<rect x="320" y="609" width="111" height="20" fill="#FFD966"/>
<rect x="431" y="609" width="109.5" height="20" fill="#FF7000"/>
<rect x="540.5" y="609" width="110.5" height="20" fill="#C80000"/>
<g stroke="#444" stroke-width="1" fill="none">
<rect x="209.5" y="609" width="441.5" height="20"/>
<line x1="320" y1="609" x2="320" y2="629"/>
<line x1="431" y1="609" x2="431" y2="629"/>
<line x1="540.5" y1="609" x2="540.5" y2="629"/>
</g>
<rect x="432" y="603" width="544" height="33" fill="none" stroke="#555" stroke-width="1.5" stroke-dasharray="6,4"/>
<g font-size="22" text-anchor="middle">
<text x="211.5" y="660">0</text>
<text x="318" y="660">0.01</text>
<text x="430" y="660">0.1</text>
<text x="542" y="660">1</text>
<text x="654" y="660">10</text>
</g>
<text x="710.5" y="627" font-size="22" textLength="245" lengthAdjust="spacingAndGlyphs">Potential exposure risk</text>

<g font-size="19">
<text x="1016" y="607">0</text>
<text x="1045" y="607">7,500</text>
<text x="1095" y="607">15,000</text>
</g>
<rect x="1020" y="621" width="72" height="8" fill="#808080"/>
<rect x="1092" y="621" width="72.5" height="8" fill="#fff" stroke="#888" stroke-width="0.8"/>
<rect x="1020" y="621" width="144.5" height="8" fill="none" stroke="#888" stroke-width="0.8"/>
<text x="1036" y="658" font-size="22" textLength="114" lengthAdjust="spacingAndGlyphs">Kilometers</text>
</svg>
</body></html>
